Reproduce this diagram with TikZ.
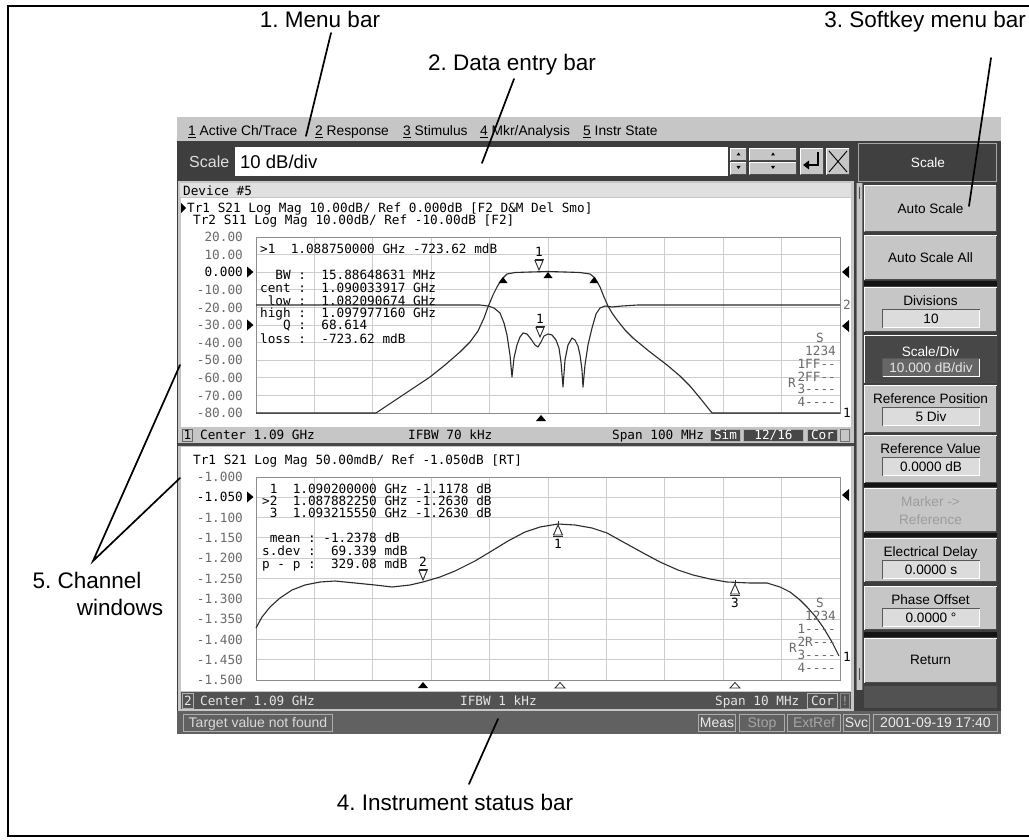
\documentclass[tikz,border=0pt]{standalone}
\usepackage{fontspec}
\setmainfont{Liberation Sans}
\newfontfamily\scrmono{DejaVu Sans Mono}
\usetikzlibrary{positioning}
\frenchspacing

\definecolor{panel}{HTML}{3E3E3E}
\definecolor{keygray}{HTML}{C6C6C6}
\definecolor{fieldgray}{HTML}{DCDCDC}
\definecolor{gridgray}{HTML}{CDCDCD}
\definecolor{ticktext}{HTML}{6A6A6A}
\definecolor{dimtext}{HTML}{9C9C9C}
\definecolor{tracegray}{HTML}{2A2A2A}

\tikzset{
  callout/.style={font=\fontsize{22.5}{26}\selectfont, inner sep=0pt, anchor=base},
  pointer/.style={line width=1.7pt, line cap=round},
  menuitem/.style={font=\fontsize{13.8}{16}\selectfont, anchor=base west, inner sep=0pt},
  keytext/.style={font=\fontsize{13.6}{16}\selectfont, anchor=base, inner sep=0pt},
  bartext/.style={font=\fontsize{14}{16}\selectfont, anchor=base, inner sep=0pt, text=white!85!black},
  monotext/.style={font=\scrmono\fontsize{12.7}{14}\selectfont, anchor=base west, inner sep=0pt},
  ticklabel/.style={monotext, anchor=base east, text=ticktext},
  trace/.style={tracegray, line width=1.1pt, line join=round},
  grid line/.style={gridgray, line width=0.9pt},
  tagbox/.style={fill=black!72, draw=white!70!black, line width=0.8pt},
}

% bevelled key and sunken field: [fill]{x1}{y1}{x2}{y2}
\newcommand{\raisedkey}[5][keygray]{%
  \fill[#1] (#2,#3) rectangle (#4,#5);
  \draw[white, line width=1pt] (#2+.5,#5-.5) -- (#2+.5,#3+.5) -- (#4-.5,#3+.5);
  \draw[black!70, line width=1pt] (#2+.5,#5-.5) -- (#4-.5,#5-.5) -- (#4-.5,#3+.5);}
\newcommand{\sunkenfield}[5][fieldgray]{%
  \fill[#1] (#2,#3) rectangle (#4,#5);
  \draw[black!65, line width=1pt] (#2+.5,#5-.5) -- (#2+.5,#3+.5) -- (#4-.5,#3+.5);
  \draw[white, line width=1pt] (#2+.5,#5-.5) -- (#4-.5,#5-.5) -- (#4-.5,#3+.5);}
% markers: {name}{x}{y}{number}
\newcommand{\activemark}[4]{%
  \draw[tracegray, line width=0.9pt] (#2-4.5,#3-12) -- (#2+4.5,#3-12);
  \draw[tracegray, line width=0.9pt] (#2-4,#3-10.5) -- (#2+4,#3-10.5) -- (#2,#3-1) -- cycle;
  \node[monotext, anchor=base] (#1) at (#2,#3-14.5) {#4};}
\newcommand{\idlemark}[4]{%
  \draw[tracegray, line width=0.9pt] (#2,#3+1) -- (#2-4.5,#3+11) -- (#2+4.5,#3+11) -- cycle;
  \draw[tracegray, line width=0.9pt] (#2-5,#3+12.5) -- (#2+5,#3+12.5) (#2,#3+1) -- (#2,#3-3);
  \node[monotext, anchor=base] (#1) at (#2,#3+24.5) {#4};}
\newcommand{\hy}{-\kern0pt}

\begin{document}
\begin{tikzpicture}[x=1pt, y=-1pt]
\useasboundingbox (0,0) rectangle (1029,840);
\clip (0,0) rectangle (1029,840);
\fill[white] (0,0) rectangle (1029,840);
\draw[line width=2.2pt] (8,6) rectangle (1045,836);

% screen body
\fill[panel] (177,117) rectangle (1001,734);

% menu bar
\fill[keygray] (177,117) rectangle (1001,141);
\node[menuitem] (menu1) at (188,136) {\underline{1} Active Ch/Trace};
\node[menuitem] (menu2) at (315,136) {\underline{2} Response};
\node[menuitem] (menu3) at (403,136) {\underline{3} Stimulus};
\node[menuitem] (menu4) at (480,136) {\underline{4} Mkr/Analysis};
\node[menuitem] (menu5) at (583,136) {\underline{5} Instr State};

% data entry bar
\node[font=\fontsize{16}{18}\selectfont, text=white!88!black, anchor=base west, inner sep=0pt] (entrytag) at (189,168) {Scale};
\fill[white] (235,147) rectangle (728,176);
\node[font=\fontsize{18.5}{20}\selectfont, anchor=base west, inner sep=0pt] (entryval) at (240,169) {10 dB/div};
\raisedkey{730}{148}{747}{161} \raisedkey{730}{162}{747}{175}
\raisedkey{749}{148}{797}{161} \raisedkey{749}{162}{797}{175}
\foreach \sx in {738.5,773} {
  \fill (\sx,152.5) -- (\sx-2,155.5) -- (\sx+2,155.5) -- cycle;
  \fill (\sx-2,166) -- (\sx+2,166) -- (\sx,169) -- cycle;
}
\raisedkey{800}{148}{824}{175}
\draw[line width=1.3pt] (818,152) -- (818,165) -- (808,165);
\fill (803,165) -- (809,160.5) -- (809,169.5) -- cycle;
\raisedkey{826}{148}{850}{175}
\draw[line width=0.9pt] (829,151) -- (847,172) (847,151) -- (829,172);

% softkey menu
\fill[black!75] (858,143) rectangle (997,182);
\draw[black!35, line width=0.8pt] (858.5,143.5) rectangle (996.5,181.5);
\node[keytext, text=white] (skhead) at (928,168) {Scale};
\fill[keygray] (856,183) rectangle (863,690);
\draw[black!55, line width=0.8pt] (856.5,183) -- (856.5,690) (862.5,183) -- (862.5,690);
\draw[black!70, line width=0.8pt] (859.5,187) -- (859.5,199) (859.5,668) -- (859.5,680);

\raisedkey{864}{185}{997}{232}
\node[keytext] (skauto) at (930.5,213.4) {Auto Scale};
\raisedkey{864}{235}{997}{280}
\node[keytext] (skall) at (930.5,262.9) {Auto Scale All};
\foreach \ya/\yb/\title/\val [count=\k] in {287/332/Divisions/10, 385/433/Reference Position/5 Div, 435/483/Reference Value/0.0000 dB, 538/582/Electrical Delay/0.0000 s, 586/630/Phase Offset/0.0000 °} {
  \raisedkey{864}{\ya}{997}{\yb}
  \node[keytext] (skt\k) at (930.5,\ya+18.9) {\title};
  \sunkenfield{882}{\ya+22}{980}{\ya+41}
  \node[keytext] (skv\k) at (931,\ya+36.4) {\val};
}
\raisedkey[black!72]{864}{335}{997}{383}
\node[keytext, text=white] (skdiv) at (930.5,356.9) {Scale/Div};
\sunkenfield[black!60]{882}{358}{980}{377}
\node[keytext, text=white!90!black] (skdivv) at (931,372.4) {10.000 dB/div};
\raisedkey{864}{488}{997}{532}
\node[keytext, text=dimtext] (skmk1) at (930.5,506.9) {Marker ->};
\node[keytext, text=dimtext] (skmk2) at (930.5,524.9) {Reference};
\raisedkey{864}{638}{997}{683}
\node[keytext] (skret) at (930.5,664.9) {Return};
\fill[black!68] (864,686) rectangle (997,708);
\foreach \sa/\sb in {281/286, 483/487, 533/537, 632/637}
  \fill[black!92] (864,\sa) rectangle (997,\sb);

% channel window 1
\fill[keygray] (178,181) rectangle (854,444);
\fill[black!12] (180,183) rectangle (851,197);
\node[monotext] (devname) at (183,195.6) {Device \#5};
\fill[white] (181,198) rectangle (851,427);
\fill[keygray] (181,428) rectangle (851,442);
\fill[black!72] (178,443) rectangle (854,446);

% channel window 2
\fill[keygray] (178,446) rectangle (854,711);
\fill[white] (181,447) rectangle (851,691);
\fill[black!68] (181,692) rectangle (851,709);

% graticules
\foreach \i in {0,...,10} {
  \draw[grid line] (256+\i*58.4,237) -- (256+\i*58.4,413);
  \draw[grid line] (256,237+\i*17.6) -- (840,237+\i*17.6);
  \draw[grid line] (256+\i*58.4,477) -- (256+\i*58.4,680);
  \draw[grid line] (256,477+\i*20.3) -- (840,477+\i*20.3);
}
\draw[black!45, line width=0.9pt] (256,237) rectangle (840,413);
\draw[black!45, line width=0.9pt] (256,477) rectangle (840,680);

% channel 1 texts
\fill (181,203) -- (181,213) -- (186,208) -- cycle;
\node[monotext] (tr1head) at (187,212.6) {Tr1 S21 Log Mag 10.00dB/ Ref 0.000dB [F2 D\&M Del Smo]};
\node[monotext] (tr2head) at (193,224.1) {Tr2 S11 Log Mag 10.00dB/ Ref -10.00dB [F2]};
\foreach \v/\c [count=\i from 0] in {20.00/ticktext, 10.00/ticktext, 0.000/black, -10.00/ticktext, -20.00/ticktext, -30.00/ticktext, -40.00/ticktext, -50.00/ticktext, -60.00/ticktext, -70.00/ticktext, -80.00/ticktext}
  \node[ticklabel, text=\c] (up\i) at (243,237+\i*17.6+4.6) {\v};
\node[monotext] (rd1) at (260,253) {>1~~1.088750000 GHz -723.62 mdB};
\node[monotext] (rd2) at (260,279.6) {~~BW :~~15.88648631 MHz};
\node[monotext] (rd3) at (260,292.3) {cent :~~1.090033917 GHz};
\node[monotext] (rd4) at (260,305) {~low :~~1.082090674 GHz};
\node[monotext] (rd5) at (260,317.3) {high :~~1.097977160 GHz};
\node[monotext] (rd6) at (260,329.6) {~~~Q :~~68.614};
\node[monotext] (rd7) at (260,343) {loss :~~-723.62 mdB};

% channel 1 traces
\draw[trace] (256,413) -- (376,413) -- (388,405) -- (400,397) -- (415,387) -- (430,377) -- (445,365) -- (460,352) -- (470,342) -- (478,331) -- (484,318) -- (488,307) -- (493,295) -- (497,287) -- (502,279) -- (507,274) -- (515,272.5) -- (530,272) -- (548,271.5) -- (565,272) -- (580,272.5) -- (590,274) -- (595,278) -- (600,287) -- (604,297) -- (608,306) -- (612,313) -- (617,320) -- (625,330) -- (633,338) -- (650,352) -- (667,365) -- (680,376) -- (690,386) -- (700,398) -- (712,413) -- (840,413);
\draw[trace] (256,305) -- (480,305) -- (488,306) -- (494,308) -- (500,313) -- (504,323) -- (507,335) -- (510,355) -- (512,377) -- (514,358) -- (517,345) -- (520,337) -- (523,333) -- (527,334) -- (531,339) -- (535,345) -- (538,347) -- (541,342) -- (544,336) -- (548,334) -- (552,335) -- (556,340) -- (559,348) -- (561,362) -- (563,387) -- (565,360) -- (568,345) -- (572,338) -- (575,340) -- (578,346) -- (580,355) -- (582,370) -- (583,387) -- (585,365) -- (588,345) -- (592,328) -- (596,314) -- (600,308) -- (605,306) -- (612,307) -- (622,306) -- (638,305) -- (840,305);
\activemark{mk1a}{539}{271}{1}
\activemark{mk1b}{540}{338}{1}
\foreach \mx/\my in {503/277, 548/272, 594/277}
  \fill (\mx,\my) -- (\mx-4.5,\my+6) -- (\mx+4.5,\my+6) -- cycle;
\fill (541,415) -- (536,421) -- (546,421) -- cycle;
\fill (247,266.5) -- (247,277.5) -- (253.5,272) -- cycle;
\fill (247,319.5) -- (247,330.5) -- (253.5,325) -- cycle;
\fill (849,266) -- (849,278) -- (842,272) -- cycle;
\fill (849,320) -- (849,332) -- (842,326) -- cycle;
\node[monotext, text=ticktext] (end1b) at (843,309.6) {2};
\node[monotext] (end1a) at (843,417.6) {1};
\node[monotext, anchor=base, text=ticktext] (sa0) at (820,342.6) {S};
\foreach \t/\yy [count=\k] in {1234/351, 1FF\hy\hy/364, 2FF\hy\hy/377, 3\hy\hy\hy\hy/389, 4\hy\hy\hy\hy/402}
  \node[monotext, anchor=base east, text=ticktext] (sa\k) at (836,\yy+4.6) {\t};
\node[monotext, anchor=base, text=ticktext] (saR) at (792,387.6) {R};

% channel 1 status line
\draw[black!60, line width=0.8pt] (182.5,429.5) rectangle (192.5,441.5);
\node[monotext, anchor=base] (c1num) at (187.5,439.6) {1};
\node[monotext] (c1cen) at (200,439.6) {Center 1.09 GHz};
\node[monotext] (c1bw) at (408,439.6) {IFBW 70 kHz};
\node[monotext] (c1span) at (612,439.6) {Span 100 MHz};
\draw[tagbox] (710.5,429.5) rectangle (740.5,441.5);
\node[monotext, anchor=base, text=white] (c1sim) at (725.5,439.6) {Sim};
\draw[tagbox] (743.5,429.5) rectangle (803.5,441.5);
\node[monotext, anchor=base, text=white] (c1pts) at (773.5,439.6) {12/16};
\draw[tagbox] (807.5,429.5) rectangle (837.5,441.5);
\node[monotext, anchor=base, text=white] (c1cor) at (822.5,439.6) {Cor};
\draw[black!55, line width=0.8pt] (840.5,429.5) rectangle (849.5,441.5);

% channel 2 texts
\node[monotext] (ch2head) at (193,464.6) {Tr1 S21 Log Mag 50.00mdB/ Ref -1.050dB [RT]};
\foreach \v/\c [count=\i from 0] in {-1.000/ticktext, -1.050/black, -1.100/ticktext, -1.150/ticktext, -1.200/ticktext, -1.250/ticktext, -1.300/ticktext, -1.350/ticktext, -1.400/ticktext, -1.450/ticktext, -1.500/ticktext}
  \node[ticklabel, text=\c] (lo\i) at (243,477+\i*20.3+4.6) {\v};
\node[monotext] (rb1) at (262,493.6) {~1~~1.090200000 GHz -1.1178 dB};
\node[monotext] (rb2) at (262,505.6) {>2~~1.087882250 GHz -1.2630 dB};
\node[monotext] (rb3) at (262,517.6) {~3~~1.093215550 GHz -1.2630 dB};
\node[monotext] (rb4) at (262,542.6) {~mean :~-1.2378 dB};
\node[monotext] (rb5) at (262,555.6) {s.dev :~~69.339 mdB};
\node[monotext] (rb6) at (262,568.6) {p - p :~~329.08 mdB};

% channel 2 trace
\draw[trace] (256,628) -- (262,617) -- (270,607) -- (280,598) -- (292,590) -- (305,585) -- (320,582) -- (335,581) -- (355,583) -- (375,585) -- (392,587) -- (410,585) -- (423,582) -- (440,577) -- (455,571) -- (475,561) -- (490,552) -- (508,541) -- (525,532) -- (540,527) -- (558,524) -- (575,525) -- (592,528) -- (607,533) -- (625,543) -- (645,554) -- (660,562) -- (678,570) -- (693,575) -- (710,579) -- (727,582) -- (750,583) -- (767,583) -- (780,587) -- (790,592) -- (800,600) -- (807,607) -- (815,616) -- (823,627) -- (832,642) -- (839,656);
\activemark{mk2b}{423}{581}{2}
\idlemark{mk2a}{558}{524}{1}
\idlemark{mk2c}{735}{583}{3}
\fill (423,682) -- (418,688) -- (428,688) -- cycle;
\foreach \mx in {560,735}
  \draw[tracegray, line width=0.8pt] (\mx,682.5) -- (\mx-5,688) -- (\mx+5,688) -- cycle;
\fill (247,491.5) -- (247,502.5) -- (253.5,497) -- cycle;
\fill (849,489) -- (849,501) -- (842,495) -- cycle;
\node[monotext] (end2a) at (843,661.6) {1};
\node[monotext, anchor=base, text=ticktext] (sb0) at (820,607.6) {S};
\foreach \t/\yy [count=\k] in {1234/616, 1\hy\hy\hy\hy/629, 2R\hy\hy\hy/642, 3\hy\hy\hy\hy/655, 4\hy\hy\hy\hy/668}
  \node[monotext, anchor=base east, text=ticktext] (sb\k) at (836,\yy+4.6) {\t};
\node[monotext, anchor=base, text=ticktext] (sbR) at (793,652.6) {R};

% channel 2 status line
\draw[white!70!black, line width=0.8pt] (182.5,693.5) rectangle (193.5,708);
\node[monotext, anchor=base, text=white!90!black] (c2num) at (188,705) {2};
\node[monotext, text=white!90!black] (c2cen) at (200,705) {Center 1.09 GHz};
\node[monotext, text=white!90!black] (c2bw) at (460,705) {IFBW 1 kHz};
\node[monotext, text=white!90!black] (c2span) at (715,705) {Span 10 MHz};
\draw[white!70!black, line width=0.8pt] (807.5,693.5) rectangle (837.5,708);
\node[monotext, anchor=base, text=white!90!black] (c2cor) at (822.5,705) {Cor};
\draw[black!45, line width=0.8pt] (840.5,693.5) rectangle (849.5,708);
\node[monotext, anchor=base, text=dimtext] (c2warn) at (845,705) {!};

% instrument status bar
\fill[black!62] (177,711) rectangle (1001,734);
\foreach \bx/\bw/\bt/\bc [count=\k] in {183/333/Target value not found/white!85!black, 698/736/Meas/white!92!black, 739/785/Stop/black!35, 787/841/ExtRef/black!35, 843/870/Svc/white!92!black, 873/998/2001-09-19 17:40/white!92!black} {
  \draw[white!68!black, line width=0.8pt] (\bx+.5,714.5) rectangle (\bw-.5,731.5);
  \node[bartext, text=\bc] (st\k) at ({(\bx+\bw)/2},727.5) {\bt};
}

% callouts
\node[callout] (menulbl) at (320,28) {1. Menu bar};
\node[callout] (entrylbl) at (512,71) {2. Data entry bar};
\node[callout, anchor=base east] (softlbl) at (1026,28) {3. Softkey menu bar};
\node[callout] (statlbl) at (455,810) {4. Instrument status bar};
\node[callout] (chlbl) at (87,588) {5. Channel};
\node[callout] (chlbl2) at (120,615) {windows};
\coordinate (menutop) at (331,33);   \coordinate (menutip) at (306,136);
\coordinate (entrytop) at (514,79);  \coordinate (entrytip) at (482,163);
\coordinate (softtop) at (991,58);   \coordinate (softtip) at (969,206);
\coordinate (stattop) at (498,719);  \coordinate (stattip) at (469,784);
\coordinate (chapex) at (93,561);
\coordinate (ch1tip) at (180,365);   \coordinate (ch2tip) at (180,478);
\draw[pointer] (menutop) -- (menutip);
\draw[pointer] (entrytop) -- (entrytip);
\draw[pointer] (softtop) -- (softtip);
\draw[pointer] (stattop) -- (stattip);
\draw[pointer] (ch1tip) -- (chapex) -- (ch2tip);
\end{tikzpicture}
\end{document}
